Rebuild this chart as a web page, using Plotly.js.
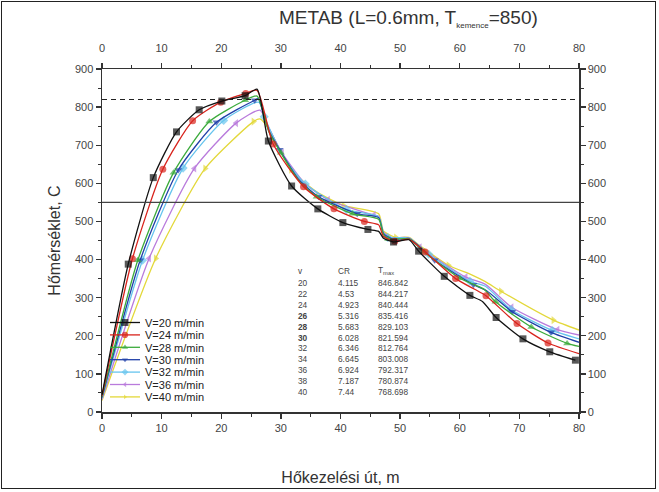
<!DOCTYPE html>
<html><head><meta charset="utf-8">
<script src="https://cdn.plot.ly/plotly-3.0.1.min.js"></script>
<style>
html,body{margin:0;padding:0;background:#fff;}
#chart{width:659px;height:492px;}
#frame{position:absolute;left:1px;top:1px;width:653px;height:486px;border:1.5px solid #222;pointer-events:none;}
</style>
</head><body><div id="chart"></div><div id="frame"></div>
<script>
// ---- data (x = heat-treatment path [m], T = temperature [C], m = marker shown) ----
const names = ['V=20 m/min','V=24 m/min','V=28 m/min','V=30 m/min','V=32 m/min','V=36 m/min','V=40 m/min'];

const x_v20 = [0,4.4,8.6,12.5,16.3,20.1,24.0,26.0,27.9,31.8,36.2,40.4,44.6,46.4,47.2,48.9,51.5,53.1,57.4,61.7,63.8,66.1,70.6,75.1,79.4];
const T_v20 = [45,388,615,735,793,816,830,847,711,593,533,497,479,474,456,446,452,422,356,306,290,248,192,158,136];
const m_v20 = [0,1,1,1,1,1,1,0,1,1,1,1,1,0,0,1,0,1,1,1,0,1,1,1,1];

const x_v24 = [0,5.1,10.2,15.2,19.9,24.1,26.0,28.7,33.8,38.9,44.0,46.4,47.2,49.1,51.5,54.2,59.3,62.5,64.4,69.6,74.8,80];
const T_v24 = [42,402,637,764,813,836,844,703,591,533,500,491,461,448,453,420,350,322,305,232,181,153];
const m_v24 = [0,1,1,1,1,1,0,1,1,1,1,0,0,1,0,1,1,0,1,1,1,0];

const x_v28 = [0,6.0,12.0,18.0,24.0,26.0,28.0,30.0,33.0,36.0,42.0,46.4,47.2,48.0,51.5,54.0,60.0,64.0,66.0,72.0,78.0,80];
const T_v28 = [40,398,628,762,818,829,735,680,607,565,520,506,466,454,454,420,351,323,289,223,180,172];
const m_v28 = [0,1,1,1,1,0,0,1,0,1,1,0,0,1,0,1,1,0,1,1,1,0];

const x_v30 = [0,6.4,12.8,19.2,25.6,26.2,28.0,29.8,33.0,36.3,42.8,46.4,47.2,49.3,51.5,55.8,62.3,64.5,68.8,75.3,80];
const T_v30 = [38,398,635,760,818,822,737,688,610,565,520,510,468,450,455,398,334,318,263,209,183];
const m_v30 = [0,1,1,1,1,0,0,1,0,1,1,0,0,1,0,1,1,0,1,1,0];

const x_v32 = [0,6.8,13.6,20.4,26.3,27.2,30.5,34.1,41.0,46.4,47.2,47.9,51.5,54.8,61.7,64.3,68.6,75.5,80];
const T_v32 = [36,398,640,765,813,775,668,598,531,512,470,458,456,414,343,330,269,214,192];
const m_v32 = [0,1,1,1,0,1,0,1,1,0,0,1,0,1,1,0,1,1,0];

const x_v36 = [0,7.9,15.5,22.5,26.5,28.0,30.2,34.0,37.9,45.6,46.4,47.2,48.5,51.5,53.3,61.0,64.3,68.7,76.4,80];
const T_v36 = [33,403,639,758,792,745,680,600,557,517,514,472,458,457,432,354,335,275,216,202];
const m_v36 = [0,1,1,1,0,0,1,0,1,1,0,0,0,0,1,1,0,1,1,0];

const x_v40 = [0,9.0,17.3,25.4,26.5,28.0,31.7,36.0,40.5,46.4,47.2,49.3,51.5,53.0,58.1,62.0,64.3,66.9,75.7,80];
const T_v40 = [30,403,639,762,769,742,636,578,542,520,475,458,458,440,385,360,342,317,241,215];
const m_v40 = [0,1,1,1,0,0,1,0,1,0,0,1,0,0,1,0,0,1,1,0];

// reference lines
const T_dashed = 820;
const T_solid = 550;

// table
const tblV  = ['20','22','24','26','28','30','32','34','36','38','40'];
const tblCR = ['4.115','4.53','4.923','5.316','5.683','6.028','6.346','6.645','6.924','7.187','7.44'];
const tblT  = ['846.842','844.217','840.444','835.416','829.103','821.594','812.764','803.008','792.317','780.874','768.698'];

// ---- styling ----
const colors  = ['#111111','#d8231c','#3cab3c','#2040a8','#66c4ee','#b97bdc','#e3d83a'];
const symbols = ['square','circle','triangle-up','triangle-down','diamond','triangle-left','triangle-right'];
const X = [x_v20,x_v24,x_v28,x_v30,x_v32,x_v36,x_v40];
const Y = [T_v20,T_v24,T_v28,T_v30,T_v32,T_v36,T_v40];
const M = [m_v20,m_v24,m_v28,m_v30,m_v32,m_v36,m_v40];

const traces = [];
for (let i = names.length - 1; i >= 0; i--) {
  traces.push({
    type:'scatter', mode:'lines+markers', name:names[i],
    x:X[i], y:Y[i],
    // the top-most series (V=20) lives on the mirrored top/right axes so those axes are drawn
    xaxis: i === 0 ? 'x2' : 'x', yaxis: i === 0 ? 'y2' : 'y',
    line:{color:colors[i], width:1.3, shape:'spline', smoothing:0.6},
    marker:{symbol:symbols[i], color:colors[i], size:M[i].map(v => v ? 7 : 0), line:{width:0}},
    cliponaxis:false
  });
}

// plot area px: x 102..579, y 69..412
const L = 102, R = 579, TOP = 69, BOT = 412;
const px2x = p => (p - L) / (R - L);
const py2y = p => (BOT - p) / (BOT - TOP);

const annotations = [];
annotations.push({xref:'paper', yref:'paper', x:px2x(408), y:py2y(19), xanchor:'center', yanchor:'middle',
  text:'METAB (L=0.6mm, T<sub><span style="font-size:8px">kemence</span></sub>=850)', showarrow:false, font:{size:19, color:'#333'}});
const tf = {size:8.3, color:'#444'};
annotations.push({xref:'paper', yref:'paper', x:px2x(296), y:py2y(271), xanchor:'left', yanchor:'middle', text:'v', showarrow:false, font:tf});
annotations.push({xref:'paper', yref:'paper', x:px2x(336), y:py2y(271), xanchor:'left', yanchor:'middle', text:'CR', showarrow:false, font:tf});
annotations.push({xref:'paper', yref:'paper', x:px2x(376), y:py2y(270), xanchor:'left', yanchor:'middle', text:'T<sub>max</sub>', showarrow:false, font:tf});
for (let i = 0; i < tblV.length; i++) {
  const yy = py2y(283 + 10.9 * i);
  const bold = (tblV[i] === '26' || tblV[i] === '28' || tblV[i] === '30');
  annotations.push({xref:'paper', yref:'paper', x:px2x(296), y:yy, xanchor:'left', yanchor:'middle', text: bold ? '<b>'+tblV[i]+'</b>' : tblV[i], showarrow:false, font:tf});
  annotations.push({xref:'paper', yref:'paper', x:px2x(336), y:yy, xanchor:'left', yanchor:'middle', text:tblCR[i], showarrow:false, font:tf});
  annotations.push({xref:'paper', yref:'paper', x:px2x(376), y:yy, xanchor:'left', yanchor:'middle', text:tblT[i], showarrow:false, font:tf});
}

const axCommon = {
  showline:true, linecolor:'#333', linewidth:1.5, showgrid:false, zeroline:false,
  ticks:'outside', ticklen:5, tickwidth:1.3, tickcolor:'#333',
  tickfont:{size:11, color:'#444', family:'Arial, Liberation Sans, sans-serif'}
};

const layout = {
  width:659, height:492,
  margin:{l:L, r:659-R, t:TOP, b:492-BOT, pad:0},
  paper_bgcolor:'#fff', plot_bgcolor:'#fff',
  font:{family:'Arial, Liberation Sans, sans-serif', color:'#333'},
  showlegend:true,
  legend:{x:px2x(105), y:py2y(308), xanchor:'left', yanchor:'top', bgcolor:'rgba(0,0,0,0)', borderwidth:0,
          font:{size:11, color:'#222'}, itemwidth:30, traceorder:'reversed'},
  xaxis:Object.assign({}, axCommon, {range:[0,80], tick0:0, dtick:10,
          minor:{dtick:5, ticks:'outside', ticklen:3, tickwidth:1, tickcolor:'#333'},
          title:{text:'Hőkezelési út, m', font:{size:16, color:'#333'}, standoff:39}}),
  xaxis2:Object.assign({}, axCommon, {range:[0,80], tick0:0, dtick:10, overlaying:'x', side:'top', anchor:'y2',
          ticklabelstandoff:6,
          minor:{dtick:5, ticks:'outside', ticklen:3, tickwidth:1, tickcolor:'#333'}}),
  yaxis:Object.assign({}, axCommon, {range:[0,900], tick0:0, dtick:100,
          minor:{dtick:50, ticks:'outside', ticklen:3, tickwidth:1, tickcolor:'#333'},
          title:{text:'Hőmérséklet, C', font:{size:16, color:'#333'}, standoff:10}}),
  yaxis2:Object.assign({}, axCommon, {range:[0,900], tick0:0, dtick:100, overlaying:'y', side:'right', anchor:'x2',
          minor:{dtick:50, ticks:'outside', ticklen:3, tickwidth:1, tickcolor:'#333'}}),
  shapes:[
    {type:'line', xref:'paper', yref:'y', x0:0, x1:1, y0:T_dashed, y1:T_dashed, line:{color:'#222', width:1.2, dash:'5px,4px'}},
    {type:'line', xref:'paper', yref:'y', x0:0, x1:1, y0:T_solid, y1:T_solid, line:{color:'#444', width:1.4}}
  ],
  annotations:annotations
};

Plotly.newPlot('chart', traces, layout, {displayModeBar:false, staticPlot:true}).then(gd => {
  const items = Array.from(gd.querySelectorAll('.legend .traces'));
  const getY = el => { const m = /translate\(\s*[-\d.]+\s*,\s*([-\d.]+)/.exec(el.getAttribute('transform') || ''); return m ? parseFloat(m[1]) : 0; };
  items.sort((a,b) => getY(a) - getY(b));
  if (items.length) {
    const y0 = getY(items[0]);
    items.forEach((el, i) => el.setAttribute('transform', 'translate(0,' + (y0 + i * 12.4) + ')'));
  }
  gd.querySelectorAll('.legend .legendpoints path.scatterpts').forEach(p => {
    const t = p.getAttribute('transform') || '';
    p.setAttribute('transform', t + ' scale(1.3)');
  });
});
</script></body></html>
